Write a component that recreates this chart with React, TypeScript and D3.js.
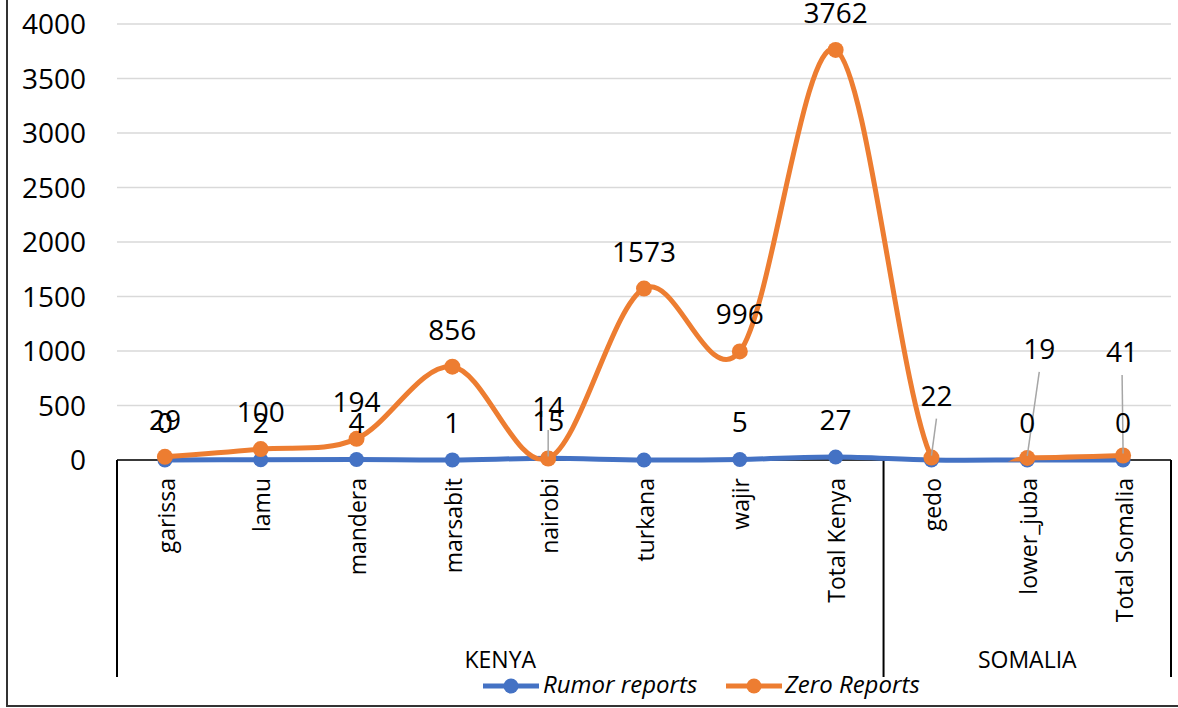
import React from "react";
import * as d3 from "d3";

const categories = ["garissa", "lamu", "mandera", "marsabit", "nairobi", "turkana", "wajir", "Total Kenya", "gedo", "lower_juba", "Total Somalia"];
const groupNames = ["KENYA", "SOMALIA"];
const groupSizes = [8, 3];
const rumorReports = [0, 2, 4, 1, 15, 0, 5, 27, 0, 0, 0];
const zeroReports = [29, 100, 194, 856, 14, 1573, 996, 3762, 22, 19, 41];
const rumorLabelShown = [true, true, true, true, true, false, true, true, false, true, true];
const yTicks = [0, 500, 1000, 1500, 2000, 2500, 3000, 3500, 4000];
const seriesNames = ["Rumor reports", "Zero Reports"];

// layout (not data)
const W = 1178, H = 708;
const PL = 117, PR = 1171, PT = 24, PB = 460;
const BLUE = "#4472C4", ORANGE = "#ED7D31";
const FONT = "'Open Sans', sans-serif";
const zeroLabelNudge: Record<number, [number, number]> = {
  4: [0, -14.5],
  8: [5, -25],
  9: [12, -72],
  10: [-1, -66.5],
};

export default function App() {
  const x = d3.scaleBand<string>().domain(categories).range([PL, PR]).padding(0);
  const y = d3.scaleLinear().domain([0, 4000]).range([PB, PT]);
  const cx = (i: number) => (x(categories[i]) as number) + x.bandwidth() / 2;

  const line = d3
    .line<number>()
    .x((_, i) => cx(i))
    .y((v) => y(v))
    .curve(d3.curveCardinal.tension(0));

  const bounds: number[] = [PL];
  let acc = 0;
  groupSizes.forEach((s) => {
    acc += s;
    bounds.push((x(categories[acc - 1]) as number) + x.bandwidth());
  });

  return (
    <svg width={W} height={H} style={{ position: "absolute", left: 0, top: 0, background: "#fff" }} fontFamily={FONT}>
      <defs>
        <clipPath id="plotClip">
          <rect x={0} y={0} width={W} height={PB + 1.5} />
        </clipPath>
      </defs>
      <rect x={7} y={-10} width={W + 20} height={716} fill="#fff" stroke="#333" strokeWidth={2} />

      {yTicks.map((t) => (
        <line key={"g" + t} x1={PL} x2={PR} y1={y(t)} y2={y(t)} stroke="#d9d9d9" strokeWidth={1.5} />
      ))}
      {yTicks.map((t) => (
        <text key={"t" + t} x={86} y={y(t)} dy="0.36em" textAnchor="end" fontSize={28} fill="#000">
          {t}
        </text>
      ))}

      <line x1={PL} x2={PR} y1={PB} y2={PB} stroke="#000" strokeWidth={1.5} />
      {bounds.map((b, i) => (
        <line key={"b" + i} x1={b} x2={b} y1={PB} y2={677} stroke="#000" strokeWidth={2} />
      ))}
      {categories.map((c, i) => (
        <text key={"c" + c} transform={`translate(${cx(i)},478) rotate(-90)`} textAnchor="end" dy="0.42em" fontSize={23} fill="#000">
          {c}
        </text>
      ))}
      {groupNames.map((g, i) => (
        <text key={"gr" + g} x={(bounds[i] + bounds[i + 1]) / 2} y={668} textAnchor="middle" fontSize={23} fill="#000">
          {g}
        </text>
      ))}

      <path d={line(rumorReports) as string} fill="none" stroke={BLUE} strokeWidth={5} />
      {rumorReports.map((v, i) => (
        <circle key={"rm" + i} cx={cx(i)} cy={y(v)} r={7.5} fill={BLUE} />
      ))}
      <path d={line(zeroReports) as string} fill="none" stroke={ORANGE} strokeWidth={5} clipPath="url(#plotClip)" />
      {zeroReports.map((v, i) => (
        <circle key={"zm" + i} cx={cx(i)} cy={y(v)} r={8} fill={ORANGE} />
      ))}

      {zeroReports.map((v, i) => {
        const n = zeroLabelNudge[i];
        if (!n) return null;
        const lx = cx(i) + n[0];
        const base = y(v) - 27 + n[1];
        return <line key={"ll" + i} x1={lx} y1={base + 13} x2={cx(i)} y2={y(v) - 2} stroke="#a6a6a6" strokeWidth={1.5} />;
      })}

      {rumorReports.map((v, i) =>
        rumorLabelShown[i] ? (
          <text key={"rl" + i} x={cx(i)} y={y(v) - 27} textAnchor="middle" fontSize={28} fill="#000">
            {v}
          </text>
        ) : null
      )}
      {zeroReports.map((v, i) => {
        const n = zeroLabelNudge[i] || [0, 0];
        return (
          <text key={"zl" + i} x={cx(i) + n[0]} y={y(v) - 27 + n[1]} textAnchor="middle" fontSize={28} fill="#000">
            {v}
          </text>
        );
      })}

      <g>
        <line x1={483} x2={539} y1={686} y2={686} stroke={BLUE} strokeWidth={5} />
        <circle cx={511} cy={686} r={7.5} fill={BLUE} />
        <text x={543} y={693} fontSize={24} fontStyle="italic" fill="#000">{seriesNames[0]}</text>
        <line x1={726} x2={782} y1={686} y2={686} stroke={ORANGE} strokeWidth={5} />
        <circle cx={754} cy={686} r={7.5} fill={ORANGE} />
        <text x={785} y={693} fontSize={24} fontStyle="italic" fill="#000">{seriesNames[1]}</text>
      </g>
    </svg>
  );
}
